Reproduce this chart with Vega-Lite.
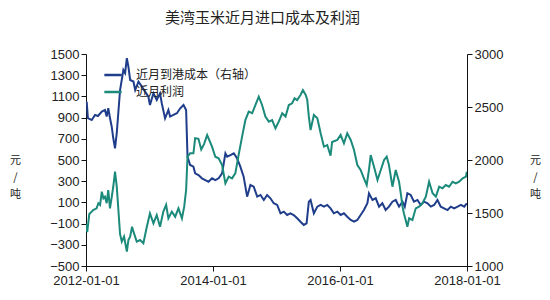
{
  "$schema": "https://vega.github.io/schema/vega-lite/v6.json",
  "width": 381,
  "height": 212,
  "autosize": {"type": "none"},
  "padding": {"left": 86, "top": 54, "right": 83, "bottom": 34},
  "background": "white",
  "config": {
    "view": {"stroke": null},
    "axis": {"labelFont": "Liberation Sans", "labelFontSize": 13, "labelColor": "#222", "domainColor": "#111", "tickColor": "#111", "grid": false, "tickSize": 5, "labelPadding": 2}
  },
  "title": {"text": "美湾玉米近月进口成本及利润", "font": "Noto Sans CJK SC", "fontSize": 15, "fontWeight": "normal", "color": "#222", "offset": 22, "dx": -14},
  "datasets": {
    "cost": [
      {"d": "2012-01-01", "v": 2535}, {"d": "2012-01-05", "v": 2550}, {"d": "2012-01-12", "v": 2396}, {"d": "2012-02-03", "v": 2377}, {"d": "2012-02-22", "v": 2425}, {"d": "2012-03-10", "v": 2415}, {"d": "2012-04-01", "v": 2456}, {"d": "2012-04-19", "v": 2472}, {"d": "2012-04-29", "v": 2410}, {"d": "2012-05-08", "v": 2488}, {"d": "2012-05-18", "v": 2396}, {"d": "2012-05-28", "v": 2314}, {"d": "2012-06-06", "v": 2205}, {"d": "2012-06-16", "v": 2110}, {"d": "2012-06-26", "v": 2255}, {"d": "2012-07-15", "v": 2660}, {"d": "2012-08-03", "v": 2849}, {"d": "2012-08-13", "v": 2820}, {"d": "2012-08-23", "v": 2960}, {"d": "2012-09-01", "v": 2880}, {"d": "2012-09-11", "v": 2755}, {"d": "2012-09-30", "v": 2740}, {"d": "2012-10-10", "v": 2660}, {"d": "2012-10-29", "v": 2740}, {"d": "2012-11-17", "v": 2692}, {"d": "2012-12-06", "v": 2645}, {"d": "2012-12-25", "v": 2597},
      {"d": "2013-01-03", "v": 2519}, {"d": "2013-01-23", "v": 2629}, {"d": "2013-02-11", "v": 2566}, {"d": "2013-03-02", "v": 2629}, {"d": "2013-03-12", "v": 2535}, {"d": "2013-03-31", "v": 2393}, {"d": "2013-04-19", "v": 2472}, {"d": "2013-04-29", "v": 2410}, {"d": "2013-05-18", "v": 2425}, {"d": "2013-06-07", "v": 2441}, {"d": "2013-06-26", "v": 2488}, {"d": "2013-07-15", "v": 2519}, {"d": "2013-07-30", "v": 2472}, {"d": "2013-08-07", "v": 2031}, {"d": "2013-08-22", "v": 1953}, {"d": "2013-09-10", "v": 1937}, {"d": "2013-09-20", "v": 1874}, {"d": "2013-10-09", "v": 1858}, {"d": "2013-10-29", "v": 1827}, {"d": "2013-11-17", "v": 1811}, {"d": "2013-12-06", "v": 1795}, {"d": "2013-12-26", "v": 1827},
      {"d": "2014-01-14", "v": 1811}, {"d": "2014-02-02", "v": 1827}, {"d": "2014-02-22", "v": 1874}, {"d": "2014-03-13", "v": 2063}, {"d": "2014-03-23", "v": 2031}, {"d": "2014-04-11", "v": 2047}, {"d": "2014-04-30", "v": 2063}, {"d": "2014-05-19", "v": 2016}, {"d": "2014-06-07", "v": 1937}, {"d": "2014-06-26", "v": 1843}, {"d": "2014-07-16", "v": 1654}, {"d": "2014-08-04", "v": 1764}, {"d": "2014-08-23", "v": 1748}, {"d": "2014-09-12", "v": 1654}, {"d": "2014-10-01", "v": 1670}, {"d": "2014-10-20", "v": 1623}, {"d": "2014-11-08", "v": 1670}, {"d": "2014-11-27", "v": 1639}, {"d": "2014-12-16", "v": 1592},
      {"d": "2015-01-05", "v": 1576}, {"d": "2015-01-24", "v": 1497}, {"d": "2015-02-12", "v": 1513}, {"d": "2015-03-03", "v": 1481}, {"d": "2015-03-22", "v": 1497}, {"d": "2015-04-10", "v": 1481}, {"d": "2015-04-30", "v": 1450}, {"d": "2015-05-19", "v": 1418}, {"d": "2015-06-07", "v": 1387}, {"d": "2015-06-23", "v": 1403}, {"d": "2015-07-06", "v": 1607}, {"d": "2015-07-16", "v": 1623}, {"d": "2015-08-04", "v": 1497}, {"d": "2015-08-24", "v": 1560}, {"d": "2015-09-12", "v": 1576}, {"d": "2015-10-01", "v": 1560}, {"d": "2015-10-20", "v": 1576}, {"d": "2015-11-08", "v": 1544}, {"d": "2015-11-27", "v": 1497}, {"d": "2015-12-17", "v": 1513},
      {"d": "2016-01-05", "v": 1481}, {"d": "2016-01-24", "v": 1497}, {"d": "2016-02-12", "v": 1465}, {"d": "2016-03-03", "v": 1434}, {"d": "2016-03-22", "v": 1418}, {"d": "2016-04-10", "v": 1434}, {"d": "2016-04-29", "v": 1481}, {"d": "2016-05-18", "v": 1528}, {"d": "2016-06-07", "v": 1592}, {"d": "2016-06-16", "v": 1686}, {"d": "2016-07-06", "v": 1623}, {"d": "2016-07-25", "v": 1639}, {"d": "2016-08-13", "v": 1560}, {"d": "2016-09-01", "v": 1592}, {"d": "2016-09-20", "v": 1528}, {"d": "2016-10-09", "v": 1560}, {"d": "2016-10-29", "v": 1607}, {"d": "2016-11-17", "v": 1623}, {"d": "2016-12-06", "v": 1560}, {"d": "2016-12-26", "v": 1607},
      {"d": "2017-01-08", "v": 1560}, {"d": "2017-01-23", "v": 1686}, {"d": "2017-02-11", "v": 1670}, {"d": "2017-03-02", "v": 1607}, {"d": "2017-03-22", "v": 1623}, {"d": "2017-04-10", "v": 1576}, {"d": "2017-04-29", "v": 1607}, {"d": "2017-05-19", "v": 1592}, {"d": "2017-06-07", "v": 1560}, {"d": "2017-06-26", "v": 1576}, {"d": "2017-07-15", "v": 1623}, {"d": "2017-08-03", "v": 1560}, {"d": "2017-08-22", "v": 1544}, {"d": "2017-09-11", "v": 1528}, {"d": "2017-09-30", "v": 1560}, {"d": "2017-10-19", "v": 1544}, {"d": "2017-11-08", "v": 1560}, {"d": "2017-11-27", "v": 1576}, {"d": "2017-12-16", "v": 1560}, {"d": "2017-12-31", "v": 1592}
    ],
    "profit": [
      {"d": "2012-01-01", "v": -100}, {"d": "2012-01-08", "v": -180}, {"d": "2012-01-20", "v": -10}, {"d": "2012-02-03", "v": 13}, {"d": "2012-02-11", "v": 28}, {"d": "2012-03-02", "v": 44}, {"d": "2012-03-12", "v": 92}, {"d": "2012-03-22", "v": 76}, {"d": "2012-04-01", "v": 201}, {"d": "2012-04-10", "v": 139}, {"d": "2012-04-19", "v": 154}, {"d": "2012-04-29", "v": 92}, {"d": "2012-05-08", "v": 217}, {"d": "2012-05-18", "v": 44}, {"d": "2012-05-28", "v": 150}, {"d": "2012-06-06", "v": 250}, {"d": "2012-06-16", "v": 390}, {"d": "2012-06-26", "v": 248}, {"d": "2012-07-15", "v": -200}, {"d": "2012-07-25", "v": -270}, {"d": "2012-08-07", "v": -223}, {"d": "2012-08-23", "v": -365}, {"d": "2012-09-01", "v": -255}, {"d": "2012-09-11", "v": -223}, {"d": "2012-09-22", "v": -130}, {"d": "2012-09-30", "v": -176}, {"d": "2012-10-19", "v": -270}, {"d": "2012-11-07", "v": -255}, {"d": "2012-11-26", "v": -286}, {"d": "2012-12-16", "v": -129},
      {"d": "2013-01-03", "v": -3}, {"d": "2013-01-23", "v": -97}, {"d": "2013-02-11", "v": -19}, {"d": "2013-03-02", "v": -129}, {"d": "2013-03-21", "v": 13}, {"d": "2013-04-06", "v": 76}, {"d": "2013-04-19", "v": -50}, {"d": "2013-05-09", "v": 13}, {"d": "2013-05-28", "v": -35}, {"d": "2013-06-16", "v": 44}, {"d": "2013-07-06", "v": -50}, {"d": "2013-07-19", "v": 60}, {"d": "2013-07-30", "v": 217}, {"d": "2013-08-07", "v": 531}, {"d": "2013-08-22", "v": 563}, {"d": "2013-09-10", "v": 563}, {"d": "2013-09-20", "v": 705}, {"d": "2013-10-09", "v": 700}, {"d": "2013-10-25", "v": 600}, {"d": "2013-11-10", "v": 650}, {"d": "2013-11-28", "v": 735}, {"d": "2013-12-26", "v": 626},
      {"d": "2014-01-14", "v": 531}, {"d": "2014-02-02", "v": 516}, {"d": "2014-02-22", "v": 453}, {"d": "2014-03-13", "v": 280}, {"d": "2014-04-01", "v": 343}, {"d": "2014-04-20", "v": 327}, {"d": "2014-05-09", "v": 374}, {"d": "2014-05-28", "v": 547}, {"d": "2014-06-17", "v": 720}, {"d": "2014-07-06", "v": 877}, {"d": "2014-07-25", "v": 956}, {"d": "2014-08-14", "v": 941}, {"d": "2014-09-02", "v": 1019}, {"d": "2014-09-21", "v": 1097}, {"d": "2014-10-10", "v": 1019}, {"d": "2014-10-29", "v": 910}, {"d": "2014-11-18", "v": 862}, {"d": "2014-12-07", "v": 877}, {"d": "2014-12-26", "v": 799},
      {"d": "2015-01-14", "v": 862}, {"d": "2015-02-03", "v": 941}, {"d": "2015-02-22", "v": 910}, {"d": "2015-03-13", "v": 1019}, {"d": "2015-04-01", "v": 1035}, {"d": "2015-04-15", "v": 1082}, {"d": "2015-04-30", "v": 1066}, {"d": "2015-05-19", "v": 1113}, {"d": "2015-06-02", "v": 1160}, {"d": "2015-06-18", "v": 1113}, {"d": "2015-06-27", "v": 1066}, {"d": "2015-07-06", "v": 910}, {"d": "2015-07-16", "v": 783}, {"d": "2015-08-04", "v": 925}, {"d": "2015-08-24", "v": 893}, {"d": "2015-09-12", "v": 752}, {"d": "2015-10-01", "v": 626}, {"d": "2015-10-20", "v": 641}, {"d": "2015-11-08", "v": 540}, {"d": "2015-11-17", "v": 670}, {"d": "2015-12-17", "v": 690},
      {"d": "2016-01-05", "v": 736}, {"d": "2016-01-24", "v": 657}, {"d": "2016-02-12", "v": 752}, {"d": "2016-03-03", "v": 689}, {"d": "2016-03-22", "v": 594}, {"d": "2016-04-10", "v": 453}, {"d": "2016-04-29", "v": 406}, {"d": "2016-05-18", "v": 327}, {"d": "2016-06-03", "v": 264}, {"d": "2016-06-16", "v": 406}, {"d": "2016-06-26", "v": 547}, {"d": "2016-07-15", "v": 437}, {"d": "2016-08-04", "v": 311}, {"d": "2016-08-23", "v": 406}, {"d": "2016-09-11", "v": 500}, {"d": "2016-09-26", "v": 531}, {"d": "2016-10-09", "v": 453}, {"d": "2016-10-29", "v": 248}, {"d": "2016-11-17", "v": 406}, {"d": "2016-12-06", "v": 295}, {"d": "2016-12-16", "v": 186}, {"d": "2016-12-26", "v": 60},
      {"d": "2017-01-03", "v": -3}, {"d": "2017-01-23", "v": -129}, {"d": "2017-02-02", "v": -50}, {"d": "2017-02-21", "v": -66}, {"d": "2017-03-12", "v": 44}, {"d": "2017-03-31", "v": 60}, {"d": "2017-04-20", "v": 92}, {"d": "2017-05-09", "v": 154}, {"d": "2017-05-28", "v": 295}, {"d": "2017-06-17", "v": 186}, {"d": "2017-07-06", "v": 154}, {"d": "2017-07-25", "v": 248}, {"d": "2017-08-13", "v": 233}, {"d": "2017-09-01", "v": 264}, {"d": "2017-09-20", "v": 248}, {"d": "2017-10-10", "v": 295}, {"d": "2017-10-29", "v": 280}, {"d": "2017-11-17", "v": 295}, {"d": "2017-12-07", "v": 327}, {"d": "2017-12-26", "v": 343}, {"d": "2017-12-31", "v": 390}
    ]
  },
  "encoding": {
    "x": {
      "field": "d", "type": "temporal",
      "scale": {"type": "utc", "domain": [{"year": 2012, "month": 1, "date": 1, "utc": true}, {"year": 2018, "month": 1, "date": 1, "utc": true}]},
      "axis": {"title": null, "labelExpr": "utcFormat(datum.value, '%Y-%m-%d')", "values": [{"year": 2012, "month": 1, "date": 1, "utc": true}, {"year": 2014, "month": 1, "date": 1, "utc": true}, {"year": 2016, "month": 1, "date": 1, "utc": true}, {"year": 2018, "month": 1, "date": 1, "utc": true}], "labelPadding": 3, "labelFlush": false}
    }
  },
  "layer": [
    {
      "data": {"name": "cost"},
      "mark": {"type": "line", "strokeWidth": 2, "clip": true},
      "encoding": {
        "y": {
          "field": "v", "type": "quantitative",
          "scale": {"domain": [1000, 3000], "nice": false, "zero": false},
          "axis": {"orient": "right", "format": "d", "values": [1000, 1500, 2000, 2500, 3000], "title": ["元", "/", "吨"], "titleAngle": 0, "titleX": 68, "titleY": 106, "titleAlign": "center", "titleBaseline": "middle", "titleFont": "Noto Sans CJK SC", "titleFontSize": 11, "titleFontWeight": "normal", "titleColor": "#222", "titleLineHeight": 17}
        },
        "color": {
          "datum": "近月到港成本（右轴）", "type": "nominal",
          "scale": {"domain": ["近月到港成本（右轴）", "近月利润"], "range": ["#1f3d8a", "#1b8a7a"]},
          "legend": {"title": null, "orient": "none", "legendX": 17, "legendY": 11, "symbolType": "stroke", "symbolSize": 300, "symbolStrokeWidth": 2.5, "labelFont": "Noto Sans CJK SC", "labelFontSize": 12, "labelColor": "#222", "labelOffset": 13, "rowPadding": 1}
        }
      }
    },
    {
      "data": {"name": "profit"},
      "mark": {"type": "line", "strokeWidth": 2, "clip": true},
      "encoding": {
        "y": {
          "field": "v", "type": "quantitative",
          "scale": {"domain": [-500, 1500], "nice": false, "zero": false},
          "axis": {"orient": "left", "format": "d", "values": [-500, -300, -100, 100, 300, 500, 700, 900, 1100, 1300, 1500], "title": ["元", "/", "吨"], "titleAngle": 0, "titleX": -71, "titleY": 106, "titleAlign": "center", "titleBaseline": "middle", "titleFont": "Noto Sans CJK SC", "titleFontSize": 11, "titleFontWeight": "normal", "titleColor": "#222", "titleLineHeight": 17}
        },
        "color": {"datum": "近月利润", "type": "nominal"}
      }
    }
  ],
  "resolve": {"scale": {"y": "independent"}}
}
